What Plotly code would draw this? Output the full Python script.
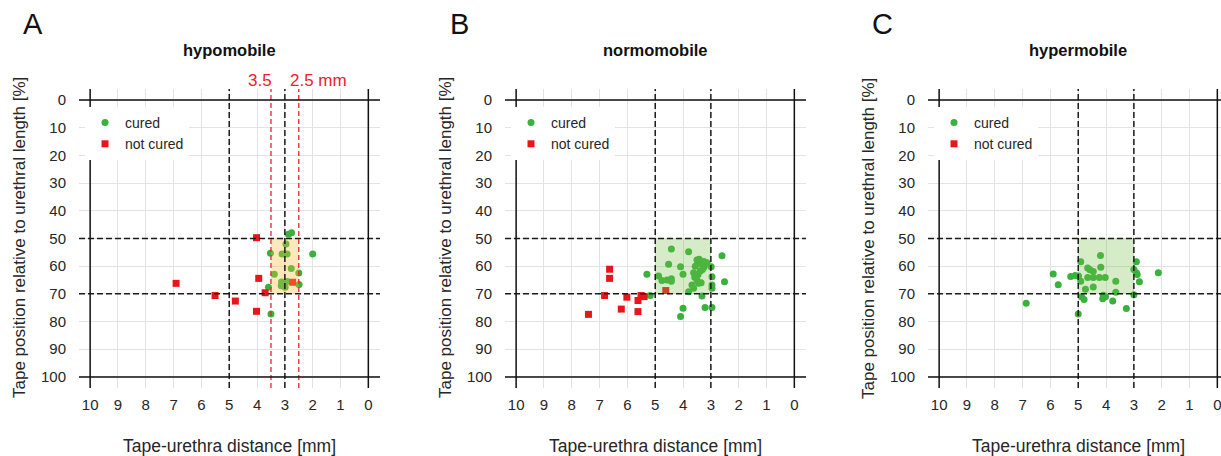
import plotly.graph_objects as go

# --- data -------------------------------------------------------------------
panel_titles = ["hypomobile", "normomobile", "hypermobile"]
panel_letters = ["A", "B", "C"]

hypo_cured_x = [2.87, 2.76, 2.96, 3.52, 3.10, 3.00, 2.92, 2.00, 2.77, 3.38,
                2.50, 3.12, 3.03, 2.92, 3.13, 2.99, 2.49, 3.59, 3.50]
hypo_cured_y = [48.5, 47.9, 52.0, 55.3, 55.6, 55.6, 55.6, 55.6, 60.8, 62.9,
                62.5, 65.7, 66.3, 65.5, 67.1, 67.6, 66.6, 67.6, 77.3]
hypo_not_x = [4.02, 6.91, 5.51, 4.78, 4.02, 3.94, 3.71, 2.72]
hypo_not_y = [49.7, 66.2, 70.6, 72.6, 76.3, 64.4, 69.6, 65.8]

normo_cured_x = [5.30, 5.18, 4.42, 3.80, 2.60, 4.52, 4.09, 4.00, 4.88, 4.76,
                 4.58, 4.42, 4.42, 3.50, 3.41, 3.14, 3.24, 3.38, 3.62, 3.50,
                 3.44, 3.62, 3.80, 3.32, 2.99, 2.96, 2.96, 2.96, 2.51, 4.00,
                 4.09, 3.21, 2.96, 3.56, 3.30, 3.46, 3.58, 3.35, 3.68, 3.25,
                 3.42]
normo_cured_y = [62.9, 70.6, 53.8, 54.8, 56.2, 59.3, 60.2, 62.9, 63.5, 65.2,
                 65.0, 64.5, 65.4, 57.8, 59.0, 58.8, 60.2, 61.7, 62.4, 65.0,
                 66.2, 68.0, 69.2, 70.8, 60.2, 63.8, 66.8, 68.0, 65.6, 75.2,
                 78.2, 74.9, 74.9, 60.0, 61.2, 63.0, 64.0, 66.0, 66.8, 58.3,
                 57.5]
normo_not_x = [6.64, 6.64, 6.82, 6.02, 5.62, 5.51, 5.40, 6.22, 5.62, 7.40, 4.62]
normo_not_y = [61.1, 64.4, 70.6, 71.2, 72.4, 70.6, 71.0, 75.5, 76.4, 77.4, 68.8]

hyper_cured_x = [6.87, 5.90, 5.72, 5.27, 5.11, 4.99, 5.00, 4.91, 4.91, 4.88,
                 4.79, 4.74, 4.66, 4.58, 4.46, 4.66, 4.46, 4.24, 4.03, 4.46,
                 4.20, 4.19, 4.10, 4.02, 4.12, 3.76, 3.65, 3.65, 3.27, 3.00,
                 3.00, 2.91, 2.91, 2.88, 2.80, 2.12]
hyper_cured_y = [73.4, 62.8, 66.7, 63.7, 63.4, 63.5, 77.3, 58.4, 65.4, 71.0,
                 72.0, 68.3, 60.7, 61.3, 61.9, 64.1, 64.1, 64.1, 64.1, 67.5,
                 56.1, 60.4, 70.5, 71.0, 71.8, 72.6, 65.4, 69.4, 75.3, 70.3,
                 61.2, 58.4, 62.4, 63.0, 65.6, 62.4]
hyper_not_x = [None]   # no failures in this group, entry kept for the legend
hyper_not_y = [None]

# reference zones
zone_pos = (50, 70)
zone_dist = [(2.5, 3.5), (3.0, 5.0), (3.0, 5.0)]
cut_lines = [5, 3]
red_lines = [3.5, 2.5]

# --- layout in pixels -------------------------------------------------------
W, H = 1221, 456
PX_MM = 27.82
doms = [(79, 380), (505, 806), (928, 1221)]
top, bottom = 89, 388
XL = 10.4
YR = [104, -4]

GREEN = "#38b23c"
RED = "#e8161b"
LRED = "#f0202a"
FONT = "Liberation Sans, Arial, sans-serif"
TXT = "#262626"

panels = [
    (hypo_cured_x, hypo_cured_y, hypo_not_x, hypo_not_y),
    (normo_cured_x, normo_cured_y, normo_not_x, normo_not_y),
    (hyper_cured_x, hyper_cured_y, hyper_not_x, hyper_not_y),
]
zone_fill = ["rgba(247,190,60,0.35)", "rgba(120,190,70,0.30)", "rgba(120,190,70,0.30)"]

fig = go.Figure()
shapes, annotations = [], []
layout = {}


def note(text, xref, x, y, size, color=TXT, **kw):
    annotations.append(dict(text=text, xref=xref, yref="paper", x=x, y=y,
                            xanchor=kw.pop("xanchor", "center"), yanchor="middle",
                            showarrow=False,
                            font=dict(size=size, color=color, family=FONT), **kw))


for i, (cx, cy, nx, ny) in enumerate(panels):
    n = "" if i == 0 else str(i + 1)
    xa, ya = "x" + n, "y" + n
    leg = "legend" + n
    d0, d1 = doms[i]
    xr = [XL, XL - (d1 - d0) / PX_MM]

    fig.add_trace(go.Scatter(x=cx, y=cy, mode="markers", name="cured",
                             marker=dict(color=GREEN, size=7, symbol="circle"),
                             xaxis=xa, yaxis=ya, legend=leg))
    fig.add_trace(go.Scatter(x=nx, y=ny, mode="markers", name="not cured",
                             marker=dict(color=RED, size=7, symbol="square"),
                             xaxis=xa, yaxis=ya, legend=leg))

    ax_common = dict(showgrid=True, gridcolor="#e3e3e3", gridwidth=1, zeroline=False,
                     showline=False, ticks="", automargin=False,
                     tickfont=dict(size=15, color=TXT, family=FONT))
    layout["xaxis" + n] = dict(domain=[d0 / W, d1 / W], range=xr, anchor=ya,
                               tickvals=list(range(0, 11)), ticklabelstandoff=6,
                               ticklabeloverflow="allow", **ax_common)
    layout["yaxis" + n] = dict(domain=[1 - bottom / H, 1 - top / H], range=YR,
                               anchor=xa, tickvals=list(range(0, 101, 10)),
                               ticklabelstandoff=12, **ax_common)
    layout[leg] = dict(x=(d0 + 6) / W, y=1 - 107 / H, xanchor="left", yanchor="top",
                       bgcolor="white", borderwidth=0, tracegroupgap=0,
                       font=dict(size=14, color=TXT, family=FONT), itemwidth=30)

    # shaded optimal zone (on top of points, translucent)
    z0, z1 = zone_dist[i]
    shapes.append(dict(type="rect", xref=xa, yref=ya, x0=z0, x1=z1,
                       y0=zone_pos[0], y1=zone_pos[1], fillcolor=zone_fill[i],
                       line=dict(width=0), layer="above"))
    dash = dict(color="#1a1a1a", width=1.5, dash="6px,3px")
    for yv in zone_pos:
        shapes.append(dict(type="line", xref=xa + " domain", yref=ya, x0=0, x1=1,
                           y0=yv, y1=yv, line=dash, layer="above"))
    for xv in cut_lines:
        shapes.append(dict(type="line", xref=xa, yref=ya + " domain", x0=xv, x1=xv,
                           y0=0, y1=1, line=dash, layer="above"))
    if i == 0:
        for xv in red_lines:
            shapes.append(dict(type="line", xref=xa, yref=ya + " domain", x0=xv, x1=xv,
                               y0=0, y1=1, line=dict(color=LRED, width=1.3,
                                                     dash="5px,3px"), layer="above"))
    solid = dict(color="#111111", width=1.5)
    for yv in (0, 100):
        shapes.append(dict(type="line", xref=xa + " domain", yref=ya, x0=0, x1=1,
                           y0=yv, y1=yv, line=solid, layer="above"))
    for xv in (10, 0):
        shapes.append(dict(type="line", xref=xa, yref=ya + " domain", x0=xv, x1=xv,
                           y0=0, y1=1, line=solid, layer="above"))

    # texts
    note("<b>" + panel_titles[i] + "</b>", xa, 5, 1 - 50 / H, 16.5, "#111")
    note(panel_letters[i], "paper", (d0 - 46) / W, 1 - 24 / H, 29, "#111")
    note("Tape-urethra distance [mm]", xa, 5, 1 - 446 / H, 17.5)
    note("Tape position relative to urethral length [%]", "paper",
         (d0 - 59) / W, 1 - 238 / H, 17, textangle=-90)

note("3.5", "x", 3.38, 1 - 81 / H, 17, LRED, xanchor="right")
note("2.5 mm", "x", 2.87, 1 - 81 / H, 17, LRED, xanchor="left")

fig.update_layout(
    width=W, height=H, margin=dict(l=0, r=0, t=0, b=0),
    paper_bgcolor="white", plot_bgcolor="white",
    shapes=shapes, annotations=annotations, **layout)

fig.write_html("out.html", config={"displayModeBar": False},
               post_script="document.body.style.margin='0px';")
